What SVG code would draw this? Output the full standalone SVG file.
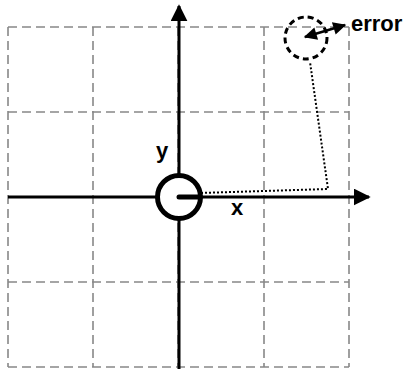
<svg xmlns="http://www.w3.org/2000/svg" width="409" height="369" viewBox="0 0 409 369">
<style>
.grid{stroke:#888;stroke-width:1.6;stroke-dasharray:9,5;fill:none}
.axis{stroke:#000;stroke-width:3;fill:none}
.lbl{font-family:"Liberation Sans",Arial,sans-serif;font-weight:bold;font-size:22px;fill:#000}
</style>
<defs>
<marker id="ah" viewBox="0 0 10 10" refX="9" refY="5" markerWidth="17" markerHeight="17" orient="auto" markerUnits="userSpaceOnUse"><path d="M0,0L10,5L0,10z" fill="#000"/></marker>
<marker id="ah2" viewBox="0 0 10 10" refX="9" refY="5" markerWidth="15" markerHeight="13" orient="auto-start-reverse" markerUnits="userSpaceOnUse"><path d="M0,0L10,5L0,10z" fill="#000"/></marker>
</defs>
<g id="grid">
<path class="grid" d="M8,27H349M8,112H349M8,197H349M8,282H349M8,367H349M8,27V367M93,27V367M178,27V367M264,27V367M349,27V367"/>
</g>
<g id="connectors">
<line class="axis" x1="179" y1="369" x2="179" y2="6" marker-end="url(#ah)"/>
<line class="axis" x1="8" y1="197" x2="369" y2="197" marker-end="url(#ah)"/>
<polyline points="201,193 328,189 310,62" fill="none" stroke="#000" stroke-width="2" stroke-dasharray="2,2"/>
<line x1="305" y1="37" x2="345" y2="25" stroke="#000" stroke-width="2.5" marker-start="url(#ah2)" marker-end="url(#ah2)"/>
</g>
<g id="origin">
<circle cx="179" cy="197" r="21.5" fill="#fff" stroke="#000" stroke-width="5"/>
<line x1="179" y1="197" x2="200" y2="197" stroke="#000" stroke-width="5" stroke-linecap="round"/>
</g>
<g id="target">
<circle cx="306" cy="38" r="21" fill="none" stroke="#000" stroke-width="3" stroke-dasharray="6,4"/>
</g>
<g id="labels">
<text class="lbl" x="156" y="158">y</text>
<text class="lbl" x="231" y="215">x</text>
<text class="lbl" x="351" y="31">error</text>
</g>
</svg>
